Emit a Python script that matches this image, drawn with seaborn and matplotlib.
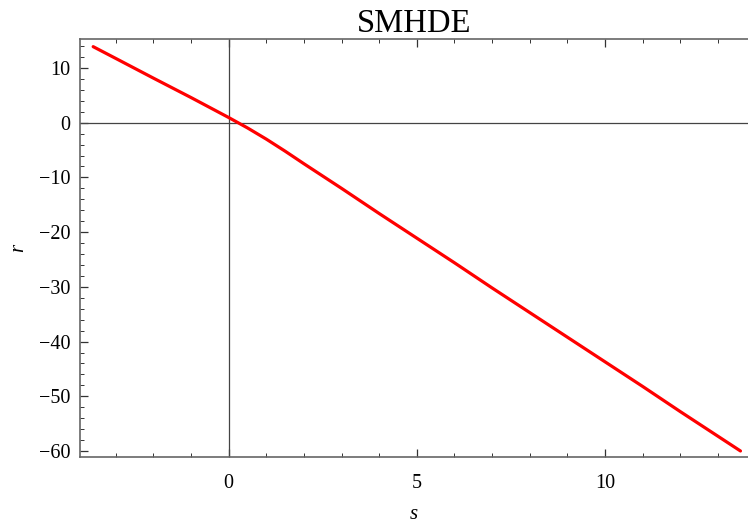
import seaborn as sns
import numpy as np
import pandas as pd
import matplotlib.pyplot as plt
from matplotlib.ticker import MultipleLocator

# values
s_vals = [-3.6, -3.0, -2.0, -1.0, 0.0, 0.5, 1.0, 1.5, 2.0, 3.0, 4.0, 5.0, 6.0, 7.0,
          8.0, 9.0, 10.0, 11.0, 12.0, 13.0, 13.6]
r_vals = [13.9, 11.75, 8.15, 4.6, 0.95, -0.95, -3.0, -5.2, -7.5, -12.0, -16.6, -21.1,
          -25.6, -30.2, -34.7, -39.2, -43.7, -48.2, -52.8, -57.3, -60.0]
title = "SMHDE"

df = pd.DataFrame({"s": s_vals, "r": r_vals})

sns.set_style("white")
plt.rcParams["font.family"] = ["Liberation Serif", "DejaVu Serif"]
plt.rcParams["text.color"] = "black"
plt.rcParams["axes.labelcolor"] = "black"

fig = plt.figure(figsize=(7.48, 5.24), dpi=100)
ax = fig.add_axes([80 / 748, 1 - 457 / 524, 668 / 748, (457 - 39) / 524])

ax.axhline(0, color="#444444", lw=0.9, zorder=1)
ax.axvline(0, color="#444444", lw=0.9, zorder=1)
sns.lineplot(data=df, x="s", y="r", color="red", lw=2.3, ax=ax, zorder=3)

ax.set_xlim(-3.95, 13.8)
ax.set_ylim(-61.1, 15.3)
ax.xaxis.set_minor_locator(MultipleLocator(1))
ax.yaxis.set_minor_locator(MultipleLocator(2))
ax.set_xticks([0, 5, 10])
ax.set_xticklabels(["0", "5", "10"])
ax.set_yticks([-60, -50, -40, -30, -20, -10, 0, 10])
ax.set_yticklabels(["\u221260", "\u221250", "\u221240", "\u221230", "\u221220",
                    "\u221210", "0", "10"])

ax.tick_params(axis="x", which="both", direction="in", top=True, bottom=True,
               colors="#333333", labelcolor="black", labelsize=14.5, pad=12)
ax.tick_params(axis="y", which="both", direction="in", left=True, right=False,
               colors="#333333", labelcolor="black", labelsize=14.5, pad=7)
ax.tick_params(which="major", length=6, width=0.9)
ax.tick_params(which="minor", length=3, width=0.7)

for side in ["left", "bottom", "top"]:
    ax.spines[side].set_color("#666666")
    ax.spines[side].set_linewidth(1.2)
ax.spines["right"].set_visible(False)

ax.set_title(title, fontsize=23.5, pad=3, color="black")
ax.set_xlabel("s", fontsize=15, style="italic", labelpad=9)
ax.set_ylabel("r", fontsize=15, style="italic", labelpad=8)

fig.savefig("out.png", dpi=100)
